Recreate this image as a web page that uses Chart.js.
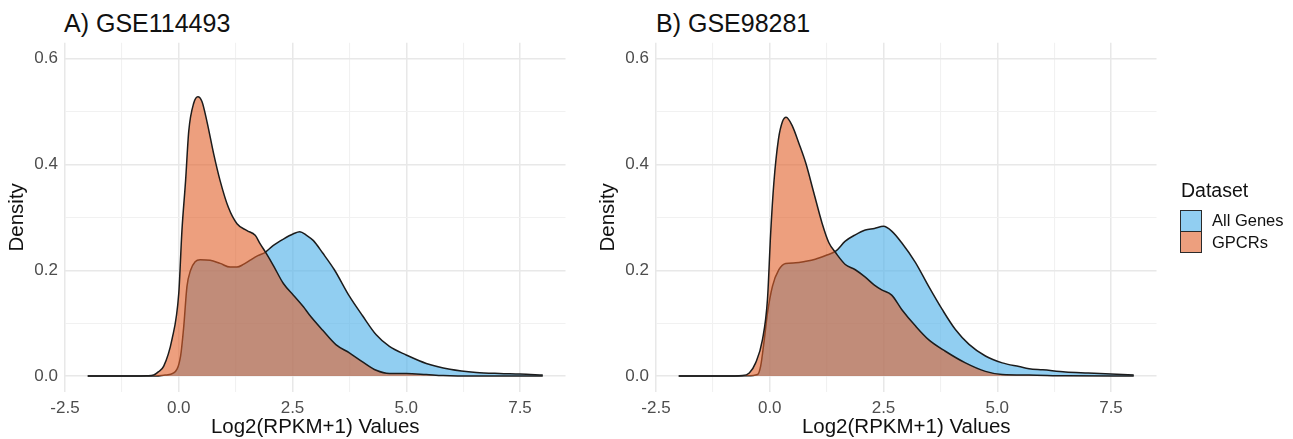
<!DOCTYPE html>
<html>
<head>
<meta charset="utf-8">
<script src="https://cdn.jsdelivr.net/npm/chart.js@4.4.1/dist/chart.umd.min.js"></script>
<style>
  body { margin: 0; background: #fff; width: 1293px; height: 439px; overflow: hidden; position: relative;
         font-family: "Liberation Sans", Arial, sans-serif; }
  canvas { position: absolute; top: 0; }
  .ptitle { position: absolute; top: 8px; font-size: 25px; line-height: 30px; color: #111; white-space: nowrap; }
  .legend { position: absolute; left: 1180px; top: 178px; color: #111; }
  .legend .lt { font-size: 19.5px; line-height: 24px; margin-bottom: 8px; margin-left: 1px; }
  .legend .row { display: flex; align-items: center; height: 21.5px; }
  .legend .key { width: 20px; height: 20px; border: 1px solid #2a2a2a; box-sizing: content-box; margin-right: 10px; }
  .legend .lab { font-size: 16.5px; }
</style>
</head>
<body>
<div class="ptitle" id="titleA" style="left:64px"></div>
<div class="ptitle" id="titleB" style="left:656px"></div>
<canvas id="densityA" width="600" height="439" style="left:0px"></canvas>
<canvas id="densityB" width="600" height="439" style="left:591px"></canvas>
<div class="legend" id="legend"></div>
<script>
// panel titles and series
const panelTitles = ['A) GSE114493', 'B) GSE98281'];
const seriesNames = ['All Genes', 'GPCRs'];
const legendTitle = 'Dataset';
const xAxisTitle = 'Log2(RPKM+1) Values';
const yAxisTitle = 'Density';

// tick values and labels
const xMajor = [-2.5, 0, 2.5, 5, 7.5];
const xTickLabels = ['-2.5', '0.0', '2.5', '5.0', '7.5'];
const xMinor = [-1.25, 1.25, 3.75, 6.25];
const yMajor = [0, 0.2, 0.4, 0.6];
const yTickLabels = ['0.0', '0.2', '0.4', '0.6'];
const yMinor = [0.1, 0.3, 0.5];

// density curves, [x, density]
const allGenesA = [[-2,0],[-1,0],[-0.5,0.0003],[-0.3,0.002],[-0.11,0.006],[0.04,0.038],[0.11,0.094],[0.18,0.169],
  [0.26,0.2],[0.36,0.216],[0.47,0.22],[0.69,0.219],[0.91,0.213],[1.13,0.206],[1.28,0.206],[1.42,0.211],[1.57,0.219],
  [1.75,0.228],[1.9,0.234],[2.08,0.247],[2.3,0.259],[2.52,0.269],[2.66,0.273],[2.81,0.266],[2.96,0.256],[3.16,0.233],
  [3.42,0.201],[3.75,0.151],[4.04,0.114],[4.34,0.078],[4.63,0.056],[5.0,0.040],[5.44,0.024],[5.96,0.013],[6.54,0.007],
  [7.05,0.005],[7.5,0.004],[8,0.002]];
const gpcrsA = [[-2,0],[-1,0],[-0.7,0.0005],[-0.55,0.002],[-0.45,0.008],[-0.33,0.019],[-0.15,0.069],[0,0.156],
  [0.07,0.275],[0.15,0.369],[0.22,0.463],[0.33,0.516],[0.42,0.528],[0.51,0.519],[0.62,0.481],[0.77,0.419],[0.91,0.369],
  [1.09,0.319],[1.28,0.288],[1.5,0.275],[1.68,0.266],[1.79,0.25],[1.93,0.231],[2.08,0.209],[2.3,0.175],[2.52,0.153],
  [2.74,0.131],[2.87,0.116],[3.16,0.087],[3.46,0.059],[3.75,0.044],[4.04,0.027],[4.34,0.011],[4.63,0.005],[5.0,0.005],
  [5.44,0.003],[5.81,0.001],[6.5,0],[8,0]];
const allGenesB = [[-2,0],[-1,0],[-0.5,0.0005],[-0.27,0.003],[-0.2,0.019],[-0.12,0.069],[-0.05,0.119],[0.06,0.17],
  [0.2,0.201],[0.35,0.213],[0.57,0.214],[0.79,0.217],[1.0,0.221],[1.23,0.228],[1.45,0.236],[1.66,0.255],[1.88,0.267],
  [2.1,0.276],[2.3,0.279],[2.5,0.283],[2.68,0.274],[2.9,0.252],[3.2,0.215],[3.49,0.17],[3.79,0.126],[4.08,0.088],
  [4.38,0.06],[4.74,0.038],[5.11,0.025],[5.48,0.018],[5.7,0.014],[6.0,0.012],[6.5,0.008],[7.0,0.006],[7.5,0.004],[8,0.002]];
const gpcrsB = [[-2,0],[-1,0],[-0.6,0.001],[-0.45,0.006],[-0.31,0.025],[-0.16,0.069],[-0.05,0.145],[0.02,0.27],
  [0.09,0.365],[0.19,0.447],[0.28,0.481],[0.36,0.489],[0.5,0.472],[0.64,0.44],[0.79,0.403],[0.97,0.346],[1.15,0.289],
  [1.3,0.252],[1.45,0.233],[1.66,0.211],[1.88,0.201],[2.1,0.187],[2.3,0.172],[2.46,0.163],[2.68,0.153],[2.9,0.126],
  [3.2,0.095],[3.49,0.069],[3.86,0.047],[4.3,0.025],[4.74,0.009],[5.11,0.003],[5.7,0.002],[6.5,0.0005],[8,0]];

const fills = ['rgba(86,180,233,0.65)', 'rgba(225,95,40,0.6)'];
const outline = '#1c1c1c';
const fontFam = '"Liberation Sans", Arial, sans-serif';

document.getElementById('titleA').textContent = panelTitles[0];
document.getElementById('titleB').textContent = panelTitles[1];

// legend
var legendHtml = '<div class="lt">' + legendTitle + '</div>';
seriesNames.forEach(function (name, i) {
    legendHtml += '<div class="row"><div class="key" style="background:' + fills[i] + '"></div><div class="lab">' + name + '</div></div>';
});
document.getElementById('legend').innerHTML = legendHtml;

function toPoints(arr) {
    return arr.map(function (p) { return { x: p[0], y: p[1] }; });
}

function isMajor(list, v) {
    return list.some(function (m) { return Math.abs(m - v) < 1e-9; });
}

// plot area inside each canvas: left 65, right 565.5, top 42.7, bottom 392
function makeChart(canvasId, allGenes, gpcrs) {
    const ctx = document.getElementById(canvasId);
    const canvasW = ctx.width;
    return new Chart(ctx, {
        type: 'line',
        data: {
            datasets: [{
                label: seriesNames[0],
                data: toPoints(allGenes),
                backgroundColor: fills[0],
                borderColor: outline,
                borderWidth: 1.5,
                fill: 'origin',
                pointRadius: 0,
                cubicInterpolationMode: 'monotone',
                order: 2
            }, {
                label: seriesNames[1],
                data: toPoints(gpcrs),
                backgroundColor: fills[1],
                borderColor: outline,
                borderWidth: 1.5,
                fill: 'origin',
                pointRadius: 0,
                cubicInterpolationMode: 'monotone',
                order: 1
            }]
        },
        options: {
            responsive: false,
            animation: false,
            devicePixelRatio: 1,
            layout: { padding: { left: 0, top: 42.7, right: canvasW - 565.5, bottom: 0 } },
            plugins: { legend: { display: false }, tooltip: { enabled: false } },
            scales: {
                x: {
                    type: 'linear',
                    min: -2.5,
                    max: 8.5,
                    afterBuildTicks: function (s) {
                        s.ticks = xMajor.concat(xMinor).sort(function (a, b) { return a - b; })
                            .map(function (v) { return { value: v }; });
                    },
                    afterFit: function (s) { s.height = 439 - 392; },
                    grid: {
                        drawTicks: false,
                        color: function (c) { return isMajor(xMajor, c.tick.value) ? '#e8e8e8' : '#f1f1f1'; },
                        lineWidth: function (c) { return isMajor(xMajor, c.tick.value) ? 1.5 : 1.1; }
                    },
                    border: { display: false },
                    ticks: {
                        autoSkip: false,
                        maxRotation: 0,
                        padding: 6,
                        color: '#4d4d4d',
                        font: { family: fontFam, size: 17 },
                        callback: function (v) {
                            const i = xMajor.findIndex(function (m) { return Math.abs(m - v) < 1e-9; });
                            return i >= 0 ? xTickLabels[i] : '';
                        }
                    },
                    title: {
                        display: true,
                        text: xAxisTitle,
                        color: '#111',
                        padding: { top: 0, bottom: 1 },
                        font: { family: fontFam, size: 20.5, lineHeight: 1 }
                    }
                },
                y: {
                    min: -0.03,
                    max: 0.63,
                    afterBuildTicks: function (s) {
                        s.ticks = yMajor.concat(yMinor).sort(function (a, b) { return a - b; })
                            .map(function (v) { return { value: v }; });
                    },
                    afterFit: function (s) { s.width = 65; },
                    grid: {
                        drawTicks: false,
                        color: function (c) { return isMajor(yMajor, c.tick.value) ? '#e8e8e8' : '#f1f1f1'; },
                        lineWidth: function (c) { return isMajor(yMajor, c.tick.value) ? 1.5 : 1.1; }
                    },
                    border: { display: false },
                    ticks: {
                        autoSkip: false,
                        padding: 7,
                        color: '#4d4d4d',
                        font: { family: fontFam, size: 17 },
                        callback: function (v) {
                            const i = yMajor.findIndex(function (m) { return Math.abs(m - v) < 1e-9; });
                            return i >= 0 ? yTickLabels[i] : '';
                        }
                    },
                    title: {
                        display: true,
                        text: yAxisTitle,
                        color: '#111',
                        padding: { top: 7, bottom: 0 },
                        font: { family: fontFam, size: 20.5, lineHeight: 1 }
                    }
                }
            }
        }
    });
}

makeChart('densityA', allGenesA, gpcrsA);
makeChart('densityB', allGenesB, gpcrsB);
</script>
</body>
</html>
